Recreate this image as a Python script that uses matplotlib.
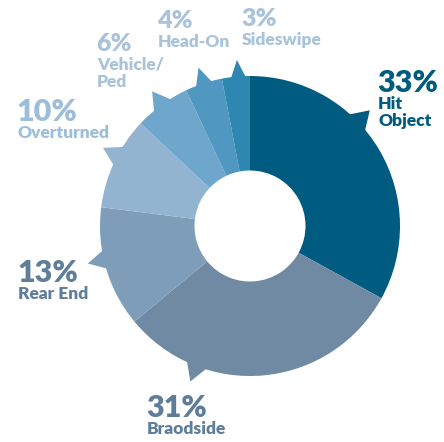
import numpy as np
import matplotlib.pyplot as plt
from matplotlib.patches import Polygon

# crash types, share of collisions (%)
categories = ["Hit\nObject", "Braodside", "Rear End", "Overturned", "Vehicle/\nPed", "Head-On", "Sideswipe"]
shares = [33, 31, 13, 10, 6, 4, 3]
slice_colors = ["#005b80", "#6f8aa2", "#7e9db9", "#93b4d0", "#6fa6cc", "#5097c2", "#2d87b0"]
label_colors = ["#005b80", "#5d7d99", "#5f7e9a", "#9dbedb", "#a9c3db", "#a9c3db", "#a9c3db"]
# pointer direction (deg clockwise from 12 o'clock) and half-width of its base
pointer_angles = [46, 201, 257, 298, 324, 342, 355.5]
pointer_half = [5.5, 5, 4.5, 5, 5, 4, 3.5]

W, H, DPI = 444, 442, 100
CX, CY, R = 250, 226, 150     # pixel centre / radius of the ring

fig = plt.figure(figsize=(W / DPI, H / DPI), dpi=DPI)
ax = fig.add_axes([0, 0, 1, 1])

ax.pie(shares, colors=slice_colors, startangle=90, counterclock=False, radius=1.0,
       wedgeprops=dict(width=0.63, linewidth=0))

# pie resets the limits, so fix the pixel mapping afterwards
ax.set_xlim(-CX / R, (W - CX) / R)
ax.set_ylim(-(H - CY) / R, CY / R)
ax.set_aspect("equal")
ax.axis("off")


def polar(theta_deg, r):
    t = np.radians(theta_deg)
    return r * np.sin(t), r * np.cos(t)


for ang, hw, col in zip(pointer_angles, pointer_half, slice_colors):
    pts = [polar(ang - hw, 0.97), polar(ang, 1.11), polar(ang + hw, 0.97)]
    ax.add_patch(Polygon(pts, closed=True, facecolor=col, edgecolor="none"))


def px(x, y):
    return (x - CX) / R, (CY - y) / R


# label anchor (left edge, centre of the percentage) in pixels, and font size of the %
label_pos = [(377, 83, 22), (146, 408, 22), (17, 273, 22), (16, 112, 22),
             (96, 44, 18), (157, 21, 18), (241, 19, 18)]
for cat, val, col, (lx, ly, fs) in zip(categories, shares, label_colors, label_pos):
    x, y = px(lx, ly)
    ax.text(x, y, f"{val}%", color=col, fontsize=fs, fontweight="heavy",
            family="Lato", ha="left", va="center")
    # one text per line so every line sits at a fixed step below the number
    for i, line in enumerate(cat.split("\n")):
        x2, y2 = px(lx + 1, ly + 21 + 17 * i)
        ax.text(x2, y2, line, color=col, fontsize=12.5, fontweight="heavy",
                family="Lato", ha="left", va="center")

fig.savefig("out.png", dpi=DPI)
